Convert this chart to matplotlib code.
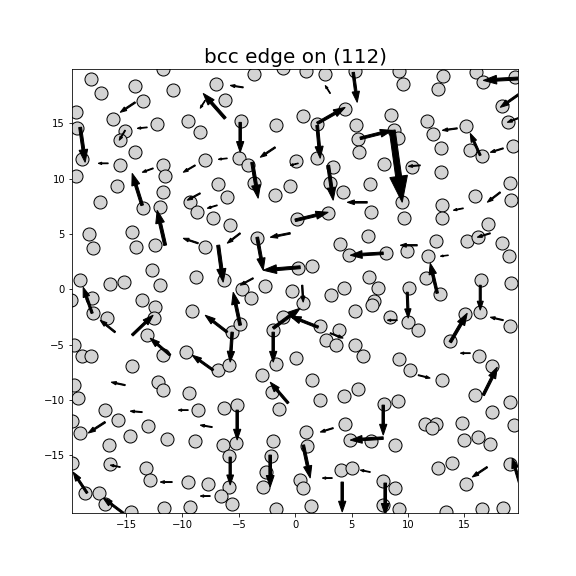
import numpy as np
import matplotlib
matplotlib.use('Agg')
import matplotlib.pyplot as plt

# atom positions (pixel readings, converted to data units below)
atom_px = [
    (91,79),(101,93),(135,86),(163,69),(173,90),(216,84),(225,100),(254,74),(283,68),(306,71),(325,74),(355,71),
    (399,71),(403,84),(443,76),(438,89),(476,72),(483,82),(515,77),
    (76,112),(113,119),(125,131),(143,101),(157,124),(188,121),(200,132),(241,121),(276,125),(303,116),(317,124),
    (345,109),(356,125),(391,115),(394,130),(427,121),(433,134),(466,126),(502,106),(508,122),
    (77,128),(82,159),(120,140),(120,165),(135,152),(163,165),(165,176),(205,160),(239,158),(248,165),(296,161),
    (317,158),(333,167),(358,139),(359,152),(384,164),(398,138),(412,167),(441,148),(470,150),(482,156),(513,146),
    (510,183),
    (76,176),(100,202),(117,186),(143,208),(163,192),(190,202),(197,212),(218,184),(227,197),(254,183),(275,195),
    (290,186),(330,183),(343,192),(370,184),(371,212),(402,202),(404,218),(441,172),(442,205),(442,218),(475,196),
    (488,224),(511,200),
    (89,234),(93,248),(132,232),(136,247),(155,245),(160,207),(205,247),(213,218),(230,225),(257,238),(297,219),
    (328,213),(340,244),(349,255),(368,236),(386,253),(369,277),(407,251),(428,256),(436,241),(467,241),(478,237),
    (502,243),(509,256),
    (80,280),(92,298),(110,284),(124,282),(152,270),(160,285),(196,277),(224,280),(242,289),(251,298),(265,286),
    (292,291),(298,268),(312,266),(331,295),(344,288),(378,288),(374,301),(409,288),(426,278),(440,294),(481,280),
    (511,283),
    (71,300),(93,313),(107,318),(142,300),(155,307),(154,318),(192,311),(232,332),(240,324),(273,330),(283,317),
    (303,303),(320,326),(339,330),(355,311),(372,305),(390,317),(408,322),(418,330),(450,341),(465,314),(480,312),
    (510,326),
    (74,345),(82,356),(91,356),(132,366),(147,335),(163,355),(186,352),(218,370),(229,365),(262,375),(276,364),
    (296,358),(326,340),(336,345),(355,345),(363,356),(399,359),(410,370),(442,380),(479,356),(492,366),
    (74,385),(78,398),(105,410),(118,420),(158,382),(163,390),(189,393),(198,410),(224,408),(237,405),(272,392),
    (279,409),(312,380),(320,400),(344,396),(358,389),(384,404),(398,401),(425,424),(436,424),(462,423),(475,395),
    (492,412),(510,402),
    (72,421),(80,433),(109,445),(130,436),(148,426),(167,439),(195,441),(223,445),(236,443),(273,441),(271,456),
    (306,432),(307,446),(345,424),(350,440),(371,441),(395,445),(432,428),(464,440),(478,437),(490,444),(514,425),
    (72,463),(85,493),(99,493),(110,464),(146,468),(150,480),(188,482),(208,484),(229,456),(229,487),(263,487),
    (266,472),(300,480),(303,488),(341,470),(352,468),(383,481),(395,488),(438,468),(452,463),(466,484),(510,464),
    (105,504),(131,512),(164,508),(190,507),(221,496),(232,504),(276,509),(311,506),(383,505),(399,509),(446,512),
    (482,509),(503,508),
]

# displacement arrows: (start, end) pixel readings
arrow_px = [
    ((80,127),(85,162)),((165,245),(157,210)),((218,245),(223,282)),((252,162),(258,198)),((225,118),(203,93)),
    ((240,122),(240,152)),((257,237),(263,270)),((300,267),(263,270)),((142,205),(132,173)),((353,72),(357,102)),
    ((360,138),(392,130)),((392,130),(402,202)),((317,123),(345,107)),((317,125),(320,158)),((328,165),(333,200)),
    ((295,220),(328,212)),((383,253),(350,255)),((480,155),(470,133)),((520,78),(483,80)),((520,93),(500,107)),
    ((520,117),(507,122)),((437,293),(430,263)),((318,327),(290,316)),((302,285),(303,302)),((383,438),(350,440)),
    ((303,445),(310,478)),((342,482),(342,512)),((385,483),(385,515)),((450,342),(467,313)),((483,395),(497,367)),
    ((520,485),(512,458)),((480,285),(480,310)),((407,292),(408,318)),((383,405),(383,435)),((232,332),(230,362)),
    ((273,332),(273,362)),((237,410),(237,440)),((240,325),(233,292)),((270,455),(270,487)),((230,457),(230,485)),
    ((273,328),(300,308)),((92,313),(83,287)),((87,493),(73,472)),((123,513),(103,498)),((132,335),(153,315)),
    ((170,355),(150,338)),((213,370),(192,355)),((227,332),(205,315)),((288,403),(270,382)),
    ((135,102),(120,112)),((147,127),(137,128)),((108,163),(98,163)),((153,168),(142,172)),((195,165),(183,172)),
    ((227,158),(218,159)),((275,147),(260,157)),((243,87),(230,85)),((200,193),(187,200)),((217,205),(207,208)),
    ((290,233),(270,237)),((198,243),(183,238)),((240,233),(227,243)),((253,278),(240,285)),((298,163),(290,165)),
    ((420,165),(408,166)),((457,128),(442,130)),((367,202),(347,202)),((463,208),(453,210)),((500,192),(487,202)),
    ((503,148),(490,152)),((417,245),(400,245)),((448,255),(440,256)),((490,233),(477,237)),((330,333),(343,338)),
    ((397,320),(387,320)),((418,375),(430,378)),((470,353),(460,353)),((503,320),(490,317)),((333,428),(320,432)),
    ((370,472),(360,470)),((332,478),(322,478)),((487,467),(472,477)),((120,467),(110,465)),((172,482),(160,482)),
    ((210,496),(200,496)),((142,412),(130,411)),((212,427),(200,425)),((115,332),(100,320)),((105,422),(88,433)),
    ((188,410),(178,410)),((125,385),(111,382)),((330,93),(325,85)),((205,100),(200,108)),((125,130),(119,140)),
]

def px_to_data(px, py):
    return (px - 295) / 11.27, (289 - py) / 11.07

atom_x = np.array([px_to_data(p, q)[0] for p, q in atom_px])
atom_y = np.array([px_to_data(p, q)[1] for p, q in atom_px])
arr_x = np.array([px_to_data(*a)[0] for a, b in arrow_px])
arr_y = np.array([px_to_data(*a)[1] for a, b in arrow_px])
arr_u = np.array([px_to_data(*b)[0] for a, b in arrow_px]) - arr_x
arr_v = np.array([px_to_data(*b)[1] for a, b in arrow_px]) - arr_y

fig, ax = plt.subplots(figsize=(8, 8), dpi=72)
ax.scatter(atom_x, atom_y, s=170, facecolor='lightgray', edgecolor='black', linewidth=1, zorder=2)
for x, y, u, v in zip(arr_x, arr_y, arr_u, arr_v):
    L = np.hypot(u, v)
    w = 0.08 * L
    ax.arrow(x, y, u, v, width=w, head_width=3 * w, head_length=min(4.5 * w, 0.6 * L),
             length_includes_head=True, color='black', zorder=3)

ax.set_xlim(-19.8, 19.8)
ax.set_ylim(-20.2, 19.9)
ax.set_xticks([-15, -10, -5, 0, 5, 10, 15])
ax.set_yticks([-15, -10, -5, 0, 5, 10, 15])
ax.set_title('bcc edge on (112)', fontsize=20)
plt.savefig('out.png', dpi=72)
